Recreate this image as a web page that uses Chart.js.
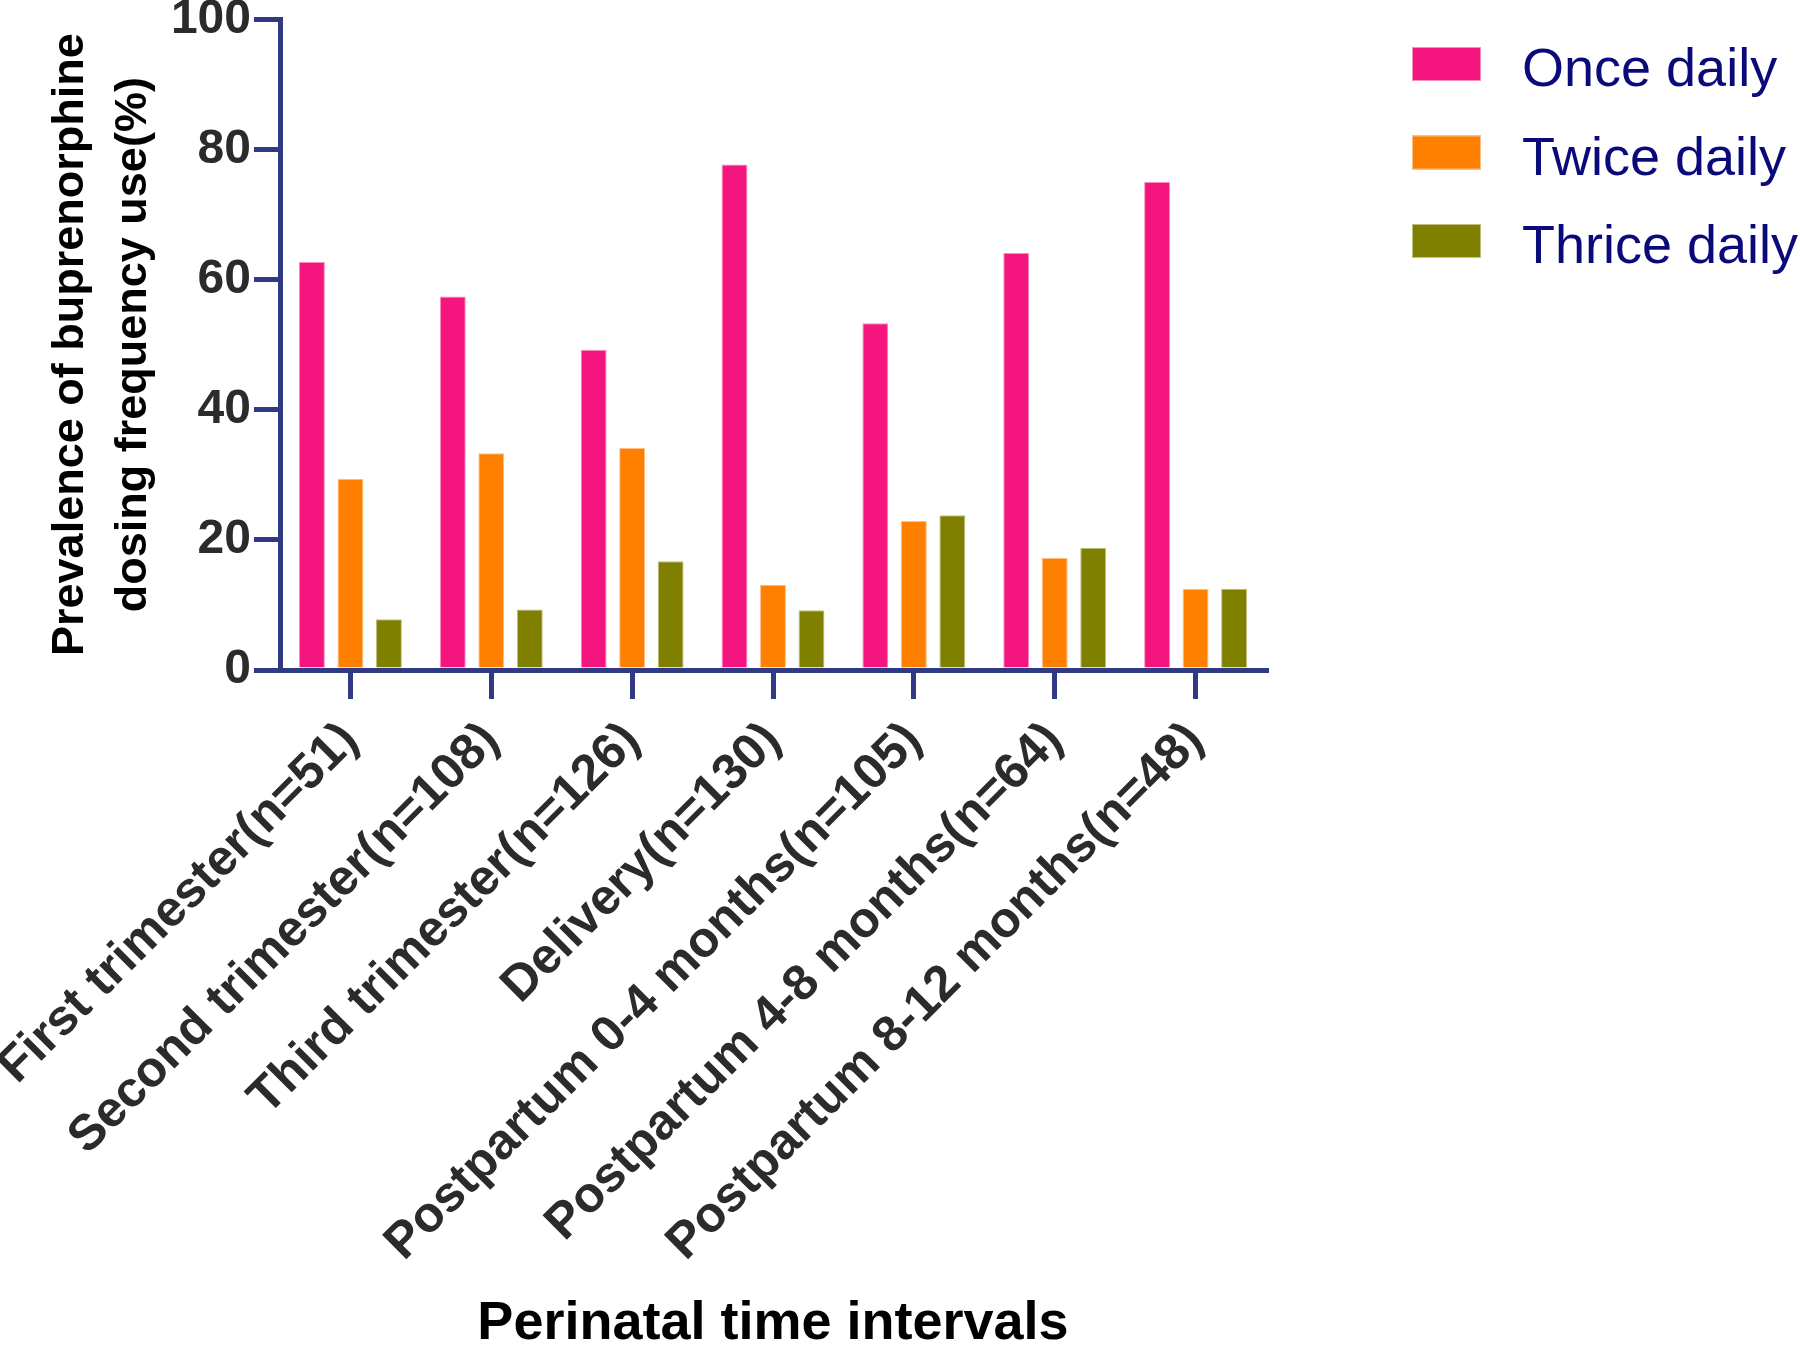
<!DOCTYPE html>
<html>
<head>
<meta charset="utf-8">
<script src="https://cdn.jsdelivr.net/npm/chart.js@4"></script>
<style>
  html, body { margin: 0; padding: 0; background: #fff; }
  #wrap { width: 1800px; height: 1347px; }
</style>
</head>
<body>
<div id="wrap"><canvas id="chart" width="1800" height="1347"></canvas></div>
<script>
const categories = [
    'First trimester(n=51)',
    'Second trimester(n=108)',
    'Third trimester(n=126)',
    'Delivery(n=130)',
    'Postpartum 0-4 months(n=105)',
    'Postpartum 4-8 months(n=64)',
    'Postpartum 8-12 months(n=48)'
];
const seriesNames = ['Once daily', 'Twice daily', 'Thrice daily'];
const onceDaily = [62.7, 57.4, 49.2, 77.7, 53.3, 64.1, 75.0];
const twiceDaily = [29.4, 33.3, 34.1, 13.1, 22.9, 17.2, 12.5];
const thriceDaily = [7.8, 9.3, 16.7, 9.2, 23.8, 18.8, 12.5];
const yTicks = [0, 20, 40, 60, 80, 100];

const FONT = '"Liberation Sans", Arial, sans-serif';
const AXIS_COLOR = '#2F3984';
const FILLS = ['#F5157E', '#FF7F00', '#808000'];
const EDGES = ['#FA8CBF', '#FFBF80', '#BFBF80'];

// legend drawn by hand so it can sit top-right like the original
const sideLegend = {
    id: 'sideLegend',
    afterDraw(chart) {
        const c = chart.ctx;
        c.save();
        chart.data.datasets.forEach((ds, i) => {
            const y = 47 + i * 88.5;
            c.fillStyle = ds.backgroundColor;
            c.fillRect(1412, y, 69, 34);
            c.strokeStyle = ds.borderColor;
            c.lineWidth = 1;
            c.strokeRect(1412.5, y + 0.5, 68, 33);
            c.fillStyle = '#0A0A7A';
            c.font = '54px ' + FONT;
            c.textBaseline = 'alphabetic';
            c.fillText(ds.label, 1522, y + 39);
        });
        c.restore();
    }
};

const datasets = [onceDaily, twiceDaily, thriceDaily].map((vals, i) => ({
    label: seriesNames[i],
    data: vals,
    backgroundColor: FILLS[i],
    borderColor: EDGES[i],
    borderWidth: 1,
    categoryPercentage: 0.82,
    barPercentage: 0.673
}));

new Chart(document.getElementById('chart').getContext('2d'), {
    type: 'bar',
    data: { labels: categories, datasets: datasets },
    options: {
        responsive: false,
        animation: false,
        layout: { padding: { left: 0, top: 0, right: 534, bottom: 0 } },
        plugins: {
            legend: { display: false },
            tooltip: { enabled: false }
        },
        scales: {
            x: {
                grid: {
                    offset: false,
                    drawOnChartArea: false,
                    color: AXIS_COLOR,
                    lineWidth: 5,
                    tickLength: 29
                },
                border: { color: AXIS_COLOR, width: 5 },
                ticks: {
                    autoSkip: false,
                    minRotation: 45,
                    maxRotation: 45,
                    padding: 12,
                    color: '#2B2B2B',
                    font: { family: FONT, size: 50, weight: 'bold' }
                },
                title: {
                    display: true,
                    text: 'Perinatal time intervals',
                    color: '#000',
                    font: { family: FONT, size: 54, weight: 'bold', lineHeight: 0.85 },
                    padding: { top: 0, bottom: 0 }
                },
                afterFit(scale) {
                    scale.height = 677;
                    scale.paddingLeft = 0;
                    scale.paddingRight = 0;
                }
            },
            y: {
                min: 0,
                max: 100,
                afterBuildTicks(scale) {
                    scale.ticks = yTicks.map(v => ({ value: v }));
                },
                grid: {
                    drawOnChartArea: false,
                    color: AXIS_COLOR,
                    lineWidth: 5,
                    tickLength: 26
                },
                border: { color: AXIS_COLOR, width: 5 },
                ticks: {
                    padding: 3,
                    color: '#2B2B2B',
                    font: { family: FONT, size: 48, weight: 'bold', lineHeight: 0.68 }
                },
                title: {
                    display: true,
                    text: ['Prevalence of buprenorphine', 'dosing frequency use(%)'],
                    color: '#000',
                    font: { family: FONT, size: 45, weight: 'bold', lineHeight: 1.38 },
                    padding: { top: 40, bottom: 0 }
                },
                afterFit(scale) {
                    scale.width = 280;
                }
            }
        }
    },
    plugins: [sideLegend]
});
</script>
</body>
</html>
